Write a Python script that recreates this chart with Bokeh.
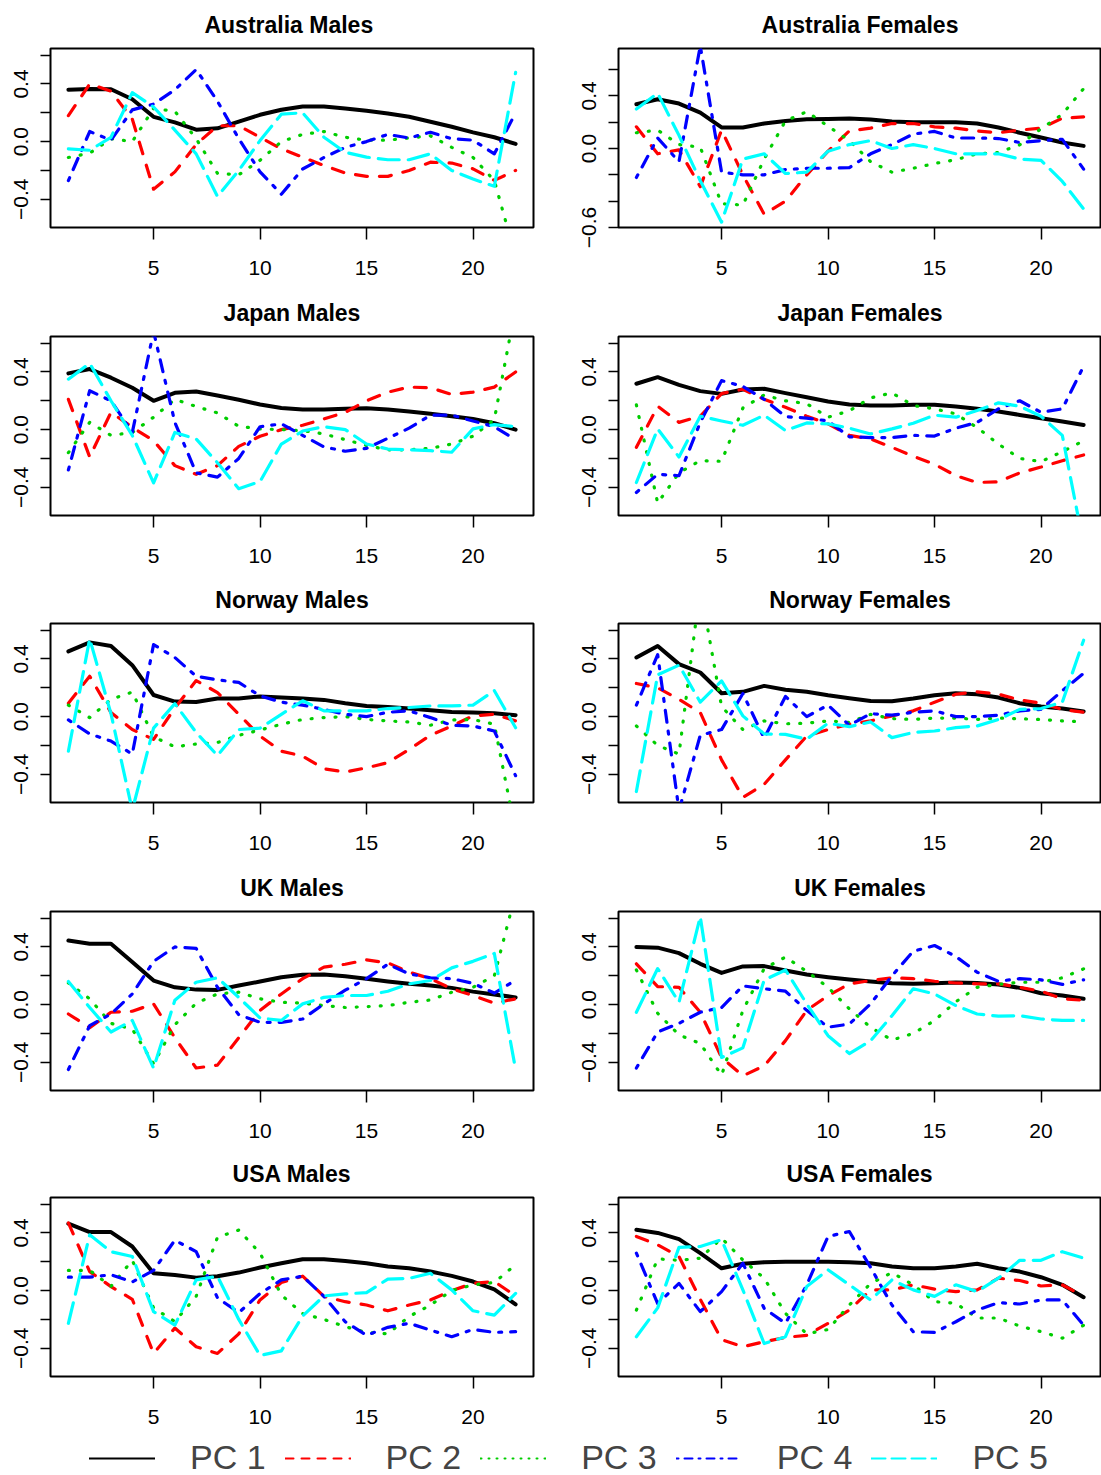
from bokeh.plotting import figure
from bokeh.layouts import column, row
from bokeh.models import Range1d, FixedTicker, Legend, LegendItem
from bokeh.embed import file_html
from bokeh.resources import INLINE

ages = list(range(1, 23))
x_tick_values = [5, 10, 15, 20]
pc_names = ["PC 1", "PC 2", "PC 3", "PC 4", "PC 5"]

# ---------------- Australia Males ----------------
aus_m_pc1 = [0.36, 0.365, 0.363, 0.294, 0.172, 0.133, 0.083, 0.092, 0.138, 0.186, 0.221, 0.244, 0.244, 0.23, 0.214, 0.195, 0.172, 0.138, 0.103, 0.064, 0.03, -0.016]
aus_m_pc2 = [0.18, 0.40, 0.35, 0.156, -0.33, -0.21, -0.02, 0.11, 0.11, 0.03, -0.05, -0.108, -0.166, -0.218, -0.241, -0.241, -0.2, -0.143, -0.149, -0.189, -0.269, -0.2]
aus_m_pc3 = [-0.11, -0.08, 0.02, 0.0, 0.23, 0.21, 0.02, -0.22, -0.23, -0.13, 0.0, 0.05, 0.07, 0.03, 0.01, 0.01, 0.025, 0.04, -0.04, -0.11, -0.27, -0.8]
aus_m_pc4 = [-0.27, 0.07, 0.01, 0.22, 0.26, 0.36, 0.5, 0.28, 0.02, -0.21, -0.365, -0.19, -0.11, -0.04, 0.0, 0.05, 0.025, 0.065, 0.02, 0.01, -0.085, 0.2]
aus_m_pc5 = [-0.05, -0.06, 0.03, 0.34, 0.24, 0.08, -0.085, -0.38, -0.2, 0.007, 0.19, 0.2, 0.03, -0.074, -0.108, -0.126, -0.126, -0.085, -0.2, -0.26, -0.31, 0.48]

# ---------------- Australia Females ----------------
aus_f_pc1 = [0.337, 0.375, 0.342, 0.273, 0.16, 0.16, 0.19, 0.21, 0.223, 0.225, 0.228, 0.22, 0.205, 0.2, 0.2, 0.2, 0.19, 0.16, 0.12, 0.084, 0.046, 0.02]
aus_f_pc2 = [0.165, -0.04, -0.01, -0.29, 0.14, -0.2, -0.5, -0.4, -0.2, -0.02, 0.134, 0.155, 0.19, 0.19, 0.165, 0.155, 0.134, 0.12, 0.14, 0.155, 0.23, 0.24]
aus_f_pc3 = [0.12, 0.14, 0.03, 0.01, -0.42, -0.43, -0.08, 0.21, 0.28, 0.17, 0.06, -0.1, -0.18, -0.15, -0.114, -0.085, -0.04, -0.03, 0.028, 0.15, 0.26, 0.455]
aus_f_pc4 = [-0.22, 0.08, -0.1, 0.78, -0.18, -0.2, -0.2, -0.16, -0.15, -0.15, -0.145, -0.04, 0.03, 0.11, 0.13, 0.08, 0.08, 0.076, 0.046, 0.06, 0.07, -0.157]
aus_f_pc5 = [0.3, 0.42, 0.1, -0.245, -0.56, -0.08, -0.04, -0.19, -0.18, -0.02, 0.03, 0.06, 0.0, 0.03, 0.0, -0.04, -0.04, -0.04, -0.08, -0.09, -0.25, -0.46]

# ---------------- Japan Males ----------------
jpn_m_pc1 = [0.39, 0.42, 0.36, 0.29, 0.2, 0.255, 0.265, 0.237, 0.207, 0.174, 0.15, 0.14, 0.14, 0.144, 0.148, 0.14, 0.125, 0.11, 0.093, 0.074, 0.044, 0.0]
jpn_m_pc2 = [0.21, -0.19, 0.12, 0.016, -0.077, -0.25, -0.31, -0.25, -0.116, -0.046, 0.0, 0.03, 0.074, 0.12, 0.2, 0.26, 0.295, 0.29, 0.244, 0.26, 0.295, 0.4]
jpn_m_pc3 = [-0.16, 0.05, -0.04, -0.02, 0.086, 0.21, 0.16, 0.116, 0.023, 0.005, 0.0, -0.007, -0.03, -0.07, -0.11, -0.14, -0.14, -0.13, -0.1, -0.046, 0.07, 0.85]
jpn_m_pc4 = [-0.28, 0.27, 0.2, -0.02, 0.68, 0.05, -0.3, -0.33, -0.2, 0.02, 0.04, -0.04, -0.12, -0.15, -0.13, -0.06, 0.01, 0.1, 0.1, 0.06, 0.02, -0.07]
jpn_m_pc5 = [0.35, 0.46, 0.2, -0.04, -0.37, -0.02, -0.065, -0.23, -0.41, -0.36, -0.1, -0.01, 0.02, 0.0, -0.1, -0.135, -0.14, -0.146, -0.157, 0.005, 0.035, 0.02]

# ---------------- Japan Females ----------------
jpn_f_pc1 = [0.318, 0.364, 0.31, 0.267, 0.248, 0.278, 0.283, 0.253, 0.225, 0.195, 0.174, 0.167, 0.167, 0.172, 0.172, 0.16, 0.144, 0.125, 0.102, 0.079, 0.056, 0.032]
jpn_f_pc2 = [-0.123, 0.162, 0.05, 0.093, 0.25, 0.28, 0.21, 0.155, 0.093, 0.04, -0.04, -0.065, -0.123, -0.185, -0.24, -0.32, -0.367, -0.362, -0.3, -0.26, -0.216, -0.176]
jpn_f_pc3 = [0.172, -0.51, -0.3, -0.215, -0.22, 0.15, 0.24, 0.2, 0.18, 0.086, 0.13, 0.22, 0.255, 0.167, 0.144, 0.109, 0.014, -0.1, -0.2, -0.222, -0.153, -0.077]
jpn_f_pc4 = [-0.436, -0.31, -0.32, 0.05, 0.34, 0.3, 0.21, 0.09, 0.08, 0.06, -0.05, -0.055, -0.055, -0.04, -0.045, 0.01, 0.05, 0.144, 0.2, 0.12, 0.144, 0.44]
jpn_f_pc5 = [-0.367, 0.005, -0.19, 0.093, 0.06, 0.03, 0.1, -0.007, 0.046, 0.04, 0.01, -0.03, 0.005, 0.044, 0.1, 0.086, 0.132, 0.186, 0.162, 0.093, -0.04, -0.8]

# ---------------- Norway Males ----------------
nor_m_pc1 = [0.452, 0.515, 0.49, 0.357, 0.15, 0.104, 0.102, 0.125, 0.125, 0.14, 0.132, 0.125, 0.116, 0.093, 0.074, 0.067, 0.056, 0.044, 0.032, 0.028, 0.023, 0.01]
nor_m_pc2 = [0.093, 0.28, 0.028, -0.09, -0.158, 0.06, 0.25, 0.167, 0.016, -0.135, -0.24, -0.274, -0.362, -0.385, -0.355, -0.32, -0.227, -0.13, -0.065, 0.005, 0.016, -0.03]
nor_m_pc3 = [0.08, -0.007, 0.12, 0.17, -0.14, -0.21, -0.19, -0.18, -0.13, -0.093, -0.053, -0.02, -0.007, 0.0, -0.02, -0.03, -0.037, -0.06, -0.023, -0.02, -0.053, -0.8]
nor_m_pc4 = [-0.023, -0.12, -0.17, -0.26, 0.5, 0.41, 0.28, 0.255, 0.237, 0.144, 0.1, 0.08, 0.05, 0.016, 0.0, 0.03, 0.04, -0.007, -0.06, -0.065, -0.1, -0.41]
nor_m_pc5 = [-0.24, 0.54, 0.02, -0.65, -0.08, 0.09, -0.11, -0.27, -0.09, -0.08, 0.016, 0.11, 0.04, 0.04, 0.04, 0.056, 0.063, 0.074, 0.074, 0.08, 0.18, -0.077]

# ---------------- Norway Females ----------------
nor_f_pc1 = [0.41, 0.49, 0.364, 0.306, 0.162, 0.172, 0.213, 0.186, 0.172, 0.148, 0.128, 0.109, 0.107, 0.125, 0.148, 0.162, 0.155, 0.132, 0.093, 0.07, 0.056, 0.035]
nor_f_pc2 = [0.23, 0.2, 0.12, 0.028, -0.3, -0.56, -0.47, -0.3, -0.135, -0.09, -0.053, -0.03, 0.005, 0.04, 0.1, 0.155, 0.172, 0.155, 0.116, 0.093, 0.05, 0.03]
nor_f_pc3 = [-0.065, -0.2, -0.26, 0.9, 0.07, -0.09, -0.03, -0.05, -0.046, -0.03, -0.04, 0.015, -0.014, -0.02, -0.01, -0.01, -0.02, -0.01, -0.015, -0.02, -0.03, -0.035]
nor_f_pc4 = [0.08, 0.43, -0.65, -0.13, -0.09, 0.16, -0.15, 0.14, 0.0, 0.08, -0.06, 0.02, 0.01, 0.03, 0.04, 0.0, 0.0, 0.01, 0.04, 0.05, 0.18, 0.3]
nor_f_pc5 = [-0.52, 0.29, 0.357, 0.1, 0.248, 0.005, -0.12, -0.123, -0.157, -0.046, -0.07, -0.037, -0.146, -0.11, -0.1, -0.077, -0.065, -0.02, 0.05, 0.056, 0.1, 0.53]

# ---------------- UK Males ----------------
uk_m_pc1 = [0.445, 0.422, 0.422, 0.295, 0.167, 0.12, 0.104, 0.102, 0.132, 0.16, 0.19, 0.207, 0.209, 0.197, 0.179, 0.16, 0.144, 0.132, 0.116, 0.09, 0.07, 0.05]
uk_m_pc2 = [-0.065, -0.16, -0.053, -0.046, 0.005, -0.23, -0.44, -0.42, -0.23, -0.04, 0.074, 0.18, 0.26, 0.28, 0.31, 0.29, 0.225, 0.18, 0.11, 0.063, 0.01, 0.04]
uk_m_pc3 = [0.15, 0.04, -0.13, -0.17, -0.41, -0.14, 0.01, 0.074, 0.086, 0.04, 0.016, 0.01, -0.007, -0.02, -0.014, -0.007, 0.016, 0.032, 0.086, 0.12, 0.2, 0.77]
uk_m_pc4 = [-0.45, -0.146, -0.065, 0.074, 0.3, 0.4, 0.39, 0.12, -0.07, -0.123, -0.123, -0.1, 0.005, 0.1, 0.18, 0.28, 0.213, 0.186, 0.18, 0.148, 0.08, 0.17]
uk_m_pc5 = [0.16, -0.02, -0.19, -0.11, -0.44, 0.03, 0.155, 0.186, 0.05, -0.093, -0.11, 0.005, 0.05, 0.063, 0.063, 0.093, 0.144, 0.167, 0.255, 0.3, 0.355, -0.45]

# ---------------- UK Females ----------------
uk_f_pc1 = [0.4, 0.395, 0.357, 0.283, 0.22, 0.265, 0.267, 0.237, 0.209, 0.19, 0.174, 0.16, 0.148, 0.144, 0.148, 0.153, 0.15, 0.14, 0.116, 0.079, 0.063, 0.04]
uk_f_pc2 = [0.283, 0.125, 0.12, -0.053, -0.367, -0.494, -0.425, -0.25, -0.04, 0.063, 0.144, 0.167, 0.186, 0.18, 0.162, 0.15, 0.144, 0.144, 0.12, 0.093, 0.04, 0.03]
uk_f_pc3 = [0.24, -0.06, -0.21, -0.27, -0.49, -0.04, 0.25, 0.33, 0.23, 0.12, -0.03, -0.158, -0.246, -0.2, -0.11, 0.02, 0.12, 0.14, 0.155, 0.155, 0.186, 0.248]
uk_f_pc4 = [-0.44, -0.19, -0.13, -0.053, -0.02, 0.13, 0.11, 0.093, -0.04, -0.157, -0.135, 0.005, 0.2, 0.37, 0.41, 0.334, 0.225, 0.162, 0.18, 0.172, 0.14, 0.172]
uk_f_pc5 = [-0.053, 0.25, 0.016, 0.61, -0.367, -0.3, 0.17, 0.24, 0.005, -0.216, -0.34, -0.25, -0.077, 0.11, 0.074, -0.007, -0.065, -0.08, -0.077, -0.1, -0.11, -0.11]

# ---------------- USA Males ----------------
usa_m_pc1 = [0.464, 0.406, 0.406, 0.306, 0.12, 0.109, 0.09, 0.1, 0.125, 0.16, 0.19, 0.218, 0.218, 0.206, 0.19, 0.167, 0.155, 0.132, 0.102, 0.063, 0.009, -0.095]
usa_m_pc2 = [0.47, 0.132, 0.028, -0.06, -0.436, -0.26, -0.39, -0.436, -0.3, -0.065, 0.056, 0.1, -0.04, -0.077, -0.1, -0.14, -0.1, -0.065, 0.0, 0.05, 0.063, -0.037]
usa_m_pc3 = [0.14, 0.14, 0.03, 0.21, -0.12, -0.215, -0.04, 0.37, 0.42, 0.26, -0.03, -0.16, -0.2, -0.25, -0.29, -0.3, -0.18, -0.1, 0.0, 0.04, 0.056, 0.18]
usa_m_pc4 = [0.093, 0.093, 0.11, 0.06, 0.14, 0.35, 0.27, -0.05, -0.153, -0.02, 0.074, 0.1, -0.04, -0.216, -0.31, -0.255, -0.227, -0.274, -0.32, -0.27, -0.29, -0.285]
usa_m_pc5 = [-0.227, 0.387, 0.27, 0.237, -0.146, -0.24, 0.074, 0.1, -0.2, -0.45, -0.418, -0.176, -0.037, -0.023, -0.014, 0.08, 0.085, 0.12, 0.005, -0.14, -0.17, -0.02]

# ---------------- USA Females ----------------
usa_f_pc1 = [0.422, 0.4, 0.357, 0.26, 0.155, 0.186, 0.197, 0.2, 0.2, 0.2, 0.197, 0.19, 0.167, 0.155, 0.155, 0.167, 0.186, 0.155, 0.132, 0.093, 0.04, -0.046]
usa_f_pc2 = [0.376, 0.318, 0.237, -0.06, -0.34, -0.39, -0.355, -0.325, -0.31, -0.227, -0.135, 0.005, 0.005, 0.04, 0.01, -0.007, 0.005, 0.086, 0.07, 0.032, 0.04, -0.04]
usa_f_pc3 = [-0.135, 0.22, 0.21, 0.225, 0.364, 0.213, 0.086, -0.158, -0.3, -0.27, -0.1, 0.05, 0.125, 0.04, -0.077, -0.088, -0.19, -0.19, -0.246, -0.285, -0.33, -0.24]
usa_f_pc4 = [0.26, -0.09, 0.05, -0.146, -0.007, 0.19, -0.123, -0.227, 0.04, 0.376, 0.41, 0.16, -0.1, -0.285, -0.29, -0.216, -0.135, -0.084, -0.093, -0.065, -0.065, -0.24]
usa_f_pc5 = [-0.32, -0.12, 0.3, 0.306, 0.353, 0.005, -0.367, -0.32, 0.028, 0.144, 0.04, -0.065, 0.074, 0.005, -0.04, 0.04, -0.007, 0.086, 0.21, 0.21, 0.27, 0.225]

# y-limits of each panel (as drawn) and tick labels shown
ylim_common = (-0.596, 0.646)
ylim_aus_f = (-0.6004, 0.7604)
yticks_common = [-0.4, -0.2, 0.0, 0.2, 0.4, 0.6]
yticks_aus_f = [-0.6, -0.4, -0.2, 0.0, 0.2, 0.4, 0.6]
ylabels_common = {-0.4: "\u22120.4", 0.0: "0.0", 0.4: "0.4"}
ylabels_aus_f = {-0.6: "\u22120.6", 0.0: "0.0", 0.4: "0.4"}

panels = [
    ("Australia  Males", [aus_m_pc1, aus_m_pc2, aus_m_pc3, aus_m_pc4, aus_m_pc5], ylim_common, yticks_common, ylabels_common),
    ("Australia Females", [aus_f_pc1, aus_f_pc2, aus_f_pc3, aus_f_pc4, aus_f_pc5], ylim_aus_f, yticks_aus_f, ylabels_aus_f),
    ("Japan Males", [jpn_m_pc1, jpn_m_pc2, jpn_m_pc3, jpn_m_pc4, jpn_m_pc5], ylim_common, yticks_common, ylabels_common),
    ("Japan Females", [jpn_f_pc1, jpn_f_pc2, jpn_f_pc3, jpn_f_pc4, jpn_f_pc5], ylim_common, yticks_common, ylabels_common),
    ("Norway Males", [nor_m_pc1, nor_m_pc2, nor_m_pc3, nor_m_pc4, nor_m_pc5], ylim_common, yticks_common, ylabels_common),
    ("Norway Females", [nor_f_pc1, nor_f_pc2, nor_f_pc3, nor_f_pc4, nor_f_pc5], ylim_common, yticks_common, ylabels_common),
    ("UK Males", [uk_m_pc1, uk_m_pc2, uk_m_pc3, uk_m_pc4, uk_m_pc5], ylim_common, yticks_common, ylabels_common),
    ("UK Females", [uk_f_pc1, uk_f_pc2, uk_f_pc3, uk_f_pc4, uk_f_pc5], ylim_common, yticks_common, ylabels_common),
    ("USA Males", [usa_m_pc1, usa_m_pc2, usa_m_pc3, usa_m_pc4, usa_m_pc5], ylim_common, yticks_common, ylabels_common),
    ("USA Females", [usa_f_pc1, usa_f_pc2, usa_f_pc3, usa_f_pc4, usa_f_pc5], ylim_common, yticks_common, ylabels_common),
]

# ---------------- styling ----------------
COLORS = ["#000000", "#FF0000", "#00CD00", "#0000FF", "#00FFFF"]
DASHES = ["solid", "12 12", "1 11", "3 9 12 9", "21 9"]
LEGEND_DASHES = ["solid", "8 8", "1 7", "2 6 8 6", "14 6"]
WIDTHS = [4, 3.2, 3.2, 3.2, 3.2]
FONT = "Liberation Sans"

ROW_HEIGHTS = [288, 287, 288, 286, 287]
TOP = 48
FRAME_H = 179


def make_panel(title, series, ylim, yticks, ylabels, left, height):
    if left:
        w, bl, br = 560, 50, 27
    else:
        w, bl, br = 541, 58, 0
    p = figure(width=w, height=height, output_backend="svg", toolbar_location=None,
               x_range=Range1d(0.16, 22.84), y_range=Range1d(*ylim),
               min_border_left=bl, min_border_right=br, min_border_top=TOP,
               min_border_bottom=height - TOP - FRAME_H)
    p.title.text = title
    p.title.align = "center"
    p.title.vertical_align = "top"
    p.title.text_font = FONT
    p.title.text_font_style = "bold"
    p.title.text_font_size = "23px"
    p.title.text_color = "black"
    p.title.standoff = 18
    p.outline_line_color = "black"
    p.outline_line_width = 2
    p.outline_line_alpha = 1
    p.xgrid.visible = False
    p.ygrid.visible = False
    p.background_fill_color = "white"
    p.border_fill_color = "white"

    for vals, c, d, lw in zip(series, COLORS, DASHES, WIDTHS):
        p.line(ages, vals, line_color=c, line_dash=d, line_width=lw, line_cap="round", line_join="round")

    xa = p.xaxis[0]
    xa.ticker = FixedTicker(ticks=x_tick_values)
    xa.axis_line_color = None
    xa.major_tick_in = 0
    xa.major_tick_out = 12
    xa.major_tick_line_width = 1.5
    xa.minor_tick_line_color = None
    xa.major_label_text_font = FONT
    xa.major_label_text_font_size = "21px"
    xa.major_label_standoff = 21
    xa.major_label_text_color = "black"

    ya = p.yaxis[0]
    ya.ticker = FixedTicker(ticks=yticks)
    ya.major_label_overrides = {t: ylabels.get(t, "") for t in yticks}
    ya.axis_line_color = None
    ya.major_tick_in = 0
    ya.major_tick_out = 10
    ya.major_tick_line_width = 1.5
    ya.minor_tick_line_color = None
    ya.major_label_orientation = "vertical"
    ya.major_label_text_font = FONT
    ya.major_label_text_font_size = "21px"
    ya.major_label_standoff = 12
    ya.major_label_text_color = "black"
    return p


rows = []
for i in range(5):
    h = ROW_HEIGHTS[i]
    lp = make_panel(*panels[2 * i], left=True, height=h)
    rp = make_panel(*panels[2 * i + 1], left=False, height=h)
    rows.append(row(lp, rp))

# ---------------- legend strip ----------------
leg = figure(width=1101, height=39, output_backend="svg", toolbar_location=None,
             x_range=Range1d(0, 1), y_range=Range1d(0, 1),
             min_border_left=0, min_border_right=0, min_border_top=0, min_border_bottom=0)
leg.axis.visible = False
leg.xgrid.visible = False
leg.ygrid.visible = False
leg.outline_line_color = None
items = []
nan = float("nan")
for name, c, d in zip(pc_names, COLORS, LEGEND_DASHES):
    r = leg.line(x=[nan], y=[nan], line_color=c, line_dash=d, line_width=2, line_cap="round")
    items.append(LegendItem(label=name, renderers=[r]))
legend = Legend(items=items, orientation="horizontal", location=(89, -2),
                glyph_width=66, glyph_height=30, label_standoff=35, spacing=19,
                label_text_font=FONT, label_text_font_size="34px",
                border_line_color=None, background_fill_alpha=0, padding=0, margin=0)
leg.add_layout(legend, "center")

layout = column(*rows, leg, spacing=0)
open("out.html", "w").write(file_html(layout, INLINE))
